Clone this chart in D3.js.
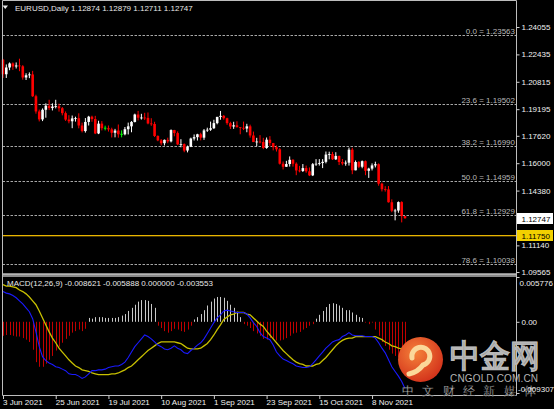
<!DOCTYPE html>
<html><head><meta charset="utf-8">
<script src="https://cdn.jsdelivr.net/npm/d3@7"></script>
<style>
html,body{margin:0;padding:0;background:#000;overflow:hidden;}
svg{display:block;}
text{font-family:"Liberation Sans",Arial,sans-serif;}
</style></head><body>
<svg id="c" width="554" height="409"></svg>
<script>
// ---------------- DATA ----------------
const symbolTitle = "EURUSD,Daily";
const lastOHLC = ["1.12874","1.12879","1.12711","1.12747"];
const firstDay = "2021-06-03", lastDay = "2021-11-22";

const openP = [
1.2212,1.2126,1.2166,1.2190,1.2172,1.2178,1.2173,1.2107,1.2120,1.2125,
1.1996,1.1906,1.1859,1.1916,1.1940,1.1926,1.1935,1.1937,1.1925,1.1896,
1.1858,1.1848,1.1865,1.1866,1.1823,1.1790,1.1844,1.1875,1.1861,1.1776,
1.1834,1.1807,1.1807,1.1800,1.1780,1.1793,1.1771,1.1771,1.1801,1.1818,
1.1844,1.1888,1.1869,1.1870,1.1868,1.1835,1.1832,1.1761,1.1735,1.1718,
1.1738,1.1729,1.1796,1.1778,1.1711,1.1713,1.1675,1.1697,1.1746,1.1754,
1.1771,1.1751,1.1794,1.1798,1.1807,1.1837,1.1874,1.1880,1.1866,1.1837,
1.1817,1.1824,1.1813,1.1809,1.1805,1.1818,1.1764,1.1725,1.1728,1.1725,
1.1690,1.1739,1.1719,1.1695,1.1682,1.1597,1.1579,1.1595,1.1620,1.1597,
1.1557,1.1554,1.1571,1.1552,1.1528,1.1594,1.1597,1.1601,1.1608,1.1651,
1.1654,1.1623,1.1643,1.1607,1.1598,1.1603,1.1680,1.1558,1.1607,1.1579,
1.1612,1.1555,1.1568,1.1587,1.1594,1.1479,1.1446,1.1445,1.1369,1.1319,
1.1320,1.1370,1.12874];
const highP = [
1.2217,1.2184,1.2196,1.2196,1.2196,1.2218,1.2180,1.2132,1.2137,1.2146,
1.2005,1.1917,1.1924,1.1954,1.1975,1.1954,1.1975,1.1952,1.1932,1.1906,
1.1884,1.1882,1.1875,1.1895,1.1840,1.1867,1.1880,1.1881,1.1880,1.1851,
1.1849,1.1822,1.1823,1.1810,1.1803,1.1829,1.1794,1.1814,1.1840,1.1849,
1.1893,1.1909,1.1892,1.1898,1.1900,1.1866,1.1845,1.1765,1.1743,1.1740,
1.1751,1.1800,1.1797,1.1788,1.1742,1.1717,1.1704,1.1751,1.1770,1.1774,
1.1780,1.1802,1.1810,1.1846,1.1857,1.1874,1.1909,1.1885,1.1869,1.1845,
1.1845,1.1848,1.1813,1.1846,1.1833,1.1828,1.1787,1.1750,1.1766,1.1750,
1.1752,1.1760,1.1720,1.1705,1.1689,1.1610,1.1614,1.1640,1.1624,1.1605,
1.1584,1.1595,1.1586,1.1575,1.1601,1.1624,1.1624,1.1624,1.1669,1.1668,
1.1667,1.1665,1.1645,1.1625,1.1616,1.1692,1.1691,1.1616,1.1613,1.1616,
1.1616,1.1573,1.1599,1.1609,1.1599,1.1485,1.1464,1.1465,1.1386,1.1330,
1.1374,1.1375,1.12879];
const lowP = [
1.2104,1.2104,1.2150,1.2152,1.2160,1.2144,1.2094,1.2092,1.2103,1.1992,
1.1893,1.1847,1.1849,1.1869,1.1914,1.1912,1.1924,1.1905,1.1883,1.1850,
1.1836,1.1807,1.1846,1.1806,1.1782,1.1781,1.1823,1.1845,1.1772,1.1772,
1.1794,1.1794,1.1787,1.1752,1.1753,1.1751,1.1753,1.1765,1.1770,1.1783,
1.1841,1.1853,1.1858,1.1856,1.1830,1.1821,1.1755,1.1730,1.1706,1.1705,
1.1718,1.1723,1.1759,1.1708,1.1694,1.1665,1.1664,1.1695,1.1734,1.1734,
1.1735,1.1738,1.1785,1.1791,1.1802,1.1830,1.1857,1.1857,1.1827,1.1802,
1.1803,1.1811,1.1771,1.1796,1.1783,1.1751,1.1725,1.1700,1.1717,1.1683,
1.1685,1.1703,1.1676,1.1669,1.1592,1.1563,1.1578,1.1580,1.1580,1.1529,
1.1546,1.1548,1.1543,1.1524,1.1524,1.1584,1.1586,1.1571,1.1599,1.1623,
1.1619,1.1619,1.1589,1.1588,1.1585,1.1586,1.1535,1.1558,1.1571,1.1570,
1.1529,1.1513,1.1557,1.1575,1.1467,1.1433,1.1432,1.1367,1.1310,1.1262,
1.1307,1.1250,1.12711];
const closeP = [
1.2126,1.2166,1.2190,1.2172,1.2178,1.2173,1.2107,1.2120,1.2125,1.1996,
1.1906,1.1859,1.1916,1.1940,1.1926,1.1935,1.1937,1.1925,1.1896,1.1858,
1.1848,1.1865,1.1866,1.1823,1.1790,1.1844,1.1875,1.1861,1.1776,1.1834,
1.1807,1.1807,1.1800,1.1780,1.1793,1.1771,1.1771,1.1801,1.1818,1.1844,
1.1888,1.1869,1.1870,1.1868,1.1835,1.1832,1.1761,1.1735,1.1718,1.1738,
1.1729,1.1796,1.1778,1.1711,1.1713,1.1675,1.1697,1.1746,1.1754,1.1771,
1.1751,1.1794,1.1798,1.1807,1.1837,1.1874,1.1880,1.1866,1.1837,1.1817,
1.1824,1.1813,1.1809,1.1805,1.1818,1.1764,1.1725,1.1728,1.1725,1.1690,
1.1739,1.1719,1.1695,1.1682,1.1597,1.1579,1.1595,1.1620,1.1597,1.1557,
1.1554,1.1571,1.1552,1.1528,1.1594,1.1597,1.1601,1.1608,1.1651,1.1654,
1.1623,1.1643,1.1607,1.1598,1.1603,1.1680,1.1558,1.1607,1.1579,1.1612,
1.1555,1.1568,1.1587,1.1594,1.1479,1.1446,1.1445,1.1369,1.1319,1.1320,
1.1370,1.1287,1.12747];

// MACD
const macdDif = [
0.0039,0.0037,0.0036,0.0034,0.0031,0.0027,0.0023,0.0018,0.0013,0.0004,
-0.0013,-0.0032,-0.0045,-0.0050,-0.0053,-0.0055,-0.0058,-0.0059,-0.0061,-0.0063,
-0.0067,-0.0068,-0.0068,-0.0070,-0.0073,-0.0071,-0.0067,-0.0063,-0.0063,-0.0062,
-0.0062,-0.0061,-0.0059,-0.0058,-0.0057,-0.0057,-0.0055,-0.0052,-0.0046,-0.0039,
-0.0032,-0.0027,-0.0022,-0.0017,-0.0019,-0.0022,-0.0026,-0.0030,-0.0032,-0.0035,
-0.0036,-0.0034,-0.0031,-0.0034,-0.0036,-0.0040,-0.0041,-0.0037,-0.0034,-0.0030,
-0.0027,-0.0022,-0.0015,-0.0008,-0.0001,0.0005,0.0009,0.0014,0.0015,0.0014,
0.0013,0.0012,0.0012,0.0012,0.0010,0.0005,-0.0001,-0.0006,-0.0014,-0.0019,
-0.0021,-0.0023,-0.0030,-0.0039,-0.0044,-0.0048,-0.0050,-0.0052,-0.0054,-0.0057,
-0.0058,-0.0059,-0.0059,-0.0058,-0.0054,-0.0049,-0.0044,-0.0039,-0.0034,-0.0030,
-0.0026,-0.0024,-0.0023,-0.0019,-0.0017,-0.0014,-0.0017,-0.0018,-0.0018,-0.0018,
-0.0019,-0.0019,-0.0019,-0.0021,-0.0027,-0.0034,-0.0040,-0.0049,-0.0058,-0.0064,
-0.0070,-0.0077,-0.0086];
const macdDea = [
0.0048,0.0046,0.0046,0.0045,0.0044,0.0041,0.0039,0.0036,0.0032,0.0027,
0.0022,0.0014,0.0005,-0.0004,-0.0013,-0.0021,-0.0027,-0.0034,-0.0039,-0.0044,
-0.0049,-0.0053,-0.0057,-0.0059,-0.0062,-0.0063,-0.0064,-0.0066,-0.0067,-0.0068,
-0.0068,-0.0068,-0.0068,-0.0067,-0.0067,-0.0066,-0.0064,-0.0062,-0.0059,-0.0057,
-0.0053,-0.0049,-0.0045,-0.0041,-0.0037,-0.0034,-0.0031,-0.0028,-0.0026,-0.0026,
-0.0026,-0.0026,-0.0026,-0.0027,-0.0028,-0.0031,-0.0034,-0.0035,-0.0035,-0.0035,
-0.0034,-0.0031,-0.0028,-0.0023,-0.0017,-0.0010,-0.0004,0.0003,0.0006,0.0009,
0.0010,0.0012,0.0012,0.0012,0.0010,0.0009,0.0005,0.0001,-0.0003,-0.0006,
-0.0012,-0.0017,-0.0022,-0.0027,-0.0032,-0.0037,-0.0041,-0.0045,-0.0049,-0.0052,
-0.0054,-0.0055,-0.0057,-0.0057,-0.0057,-0.0055,-0.0054,-0.0050,-0.0046,-0.0041,
-0.0036,-0.0031,-0.0027,-0.0024,-0.0022,-0.0021,-0.0021,-0.0019,-0.0019,-0.0019,
-0.0019,-0.0019,-0.0019,-0.0019,-0.0021,-0.0023,-0.0026,-0.0028,-0.0031,-0.0032,
-0.0034,-0.0035,-0.0036];
const macdHist = [
-0.0018,-0.0017,-0.0017,-0.0018,-0.0019,-0.0019,-0.0021,-0.0023,-0.0026,-0.0036,
-0.0052,-0.0058,-0.0058,-0.0054,-0.0049,-0.0044,-0.0037,-0.0032,-0.0027,-0.0022,
-0.0018,-0.0014,-0.0012,-0.0010,-0.0012,-0.0009,0.0005,0.0004,0.0006,0.0006,
0.0006,0.0005,0.0005,0.0005,0.0005,0.0006,0.0008,0.0010,0.0014,0.0018,
0.0022,0.0026,0.0028,0.0028,0.0027,0.0023,0.0018,-0.0005,-0.0008,-0.0012,
-0.0014,-0.0012,-0.0009,-0.0010,-0.0012,-0.0013,-0.0010,-0.0005,0.0003,0.0006,
0.0010,0.0015,0.0021,0.0026,0.0030,0.0032,0.0032,0.0031,0.0027,0.0022,
0.0018,0.0013,0.0006,-0.0003,-0.0005,-0.0008,-0.0012,-0.0015,-0.0018,-0.0022,
-0.0023,-0.0021,-0.0023,-0.0024,-0.0024,-0.0023,-0.0021,-0.0018,-0.0015,-0.0014,
-0.0013,-0.0010,-0.0008,-0.0005,-0.0003,0.0004,0.0009,0.0014,0.0019,0.0023,
0.0024,0.0023,0.0021,0.0018,0.0015,0.0015,0.0012,0.0009,0.0006,0.0005,
-0.0001,-0.0003,-0.0001,-0.0010,-0.0018,-0.0026,-0.0031,-0.0036,-0.0041,-0.0044,
-0.0046,-0.0052,-0.0059];
const macdHeader = "MACD(12,26,9) -0.008621 -0.005888 0.000000 -0.003553";

const priceTicks = [1.24055,1.22435,1.20815,1.19195,1.17620,1.16000,1.14380,1.11140,1.09565];
const priceRange = [1.09565, 1.25593];
const macdTicks = [0.005776, 0, -0.009307];
const macdRange = [-0.009307, 0.005776];
const fibLevels = ["0.0","23.6","38.2","50.0","61.8","78.6"];
const fibPrices = [1.23563,1.19502,1.16990,1.14959,1.12929,1.10038];
const hLinePrice = 1.11750;
const currentPrice = 1.12747;
const dateTicks = ["3 Jun 2021","25 Jun 2021","19 Jul 2021","10 Aug 2021","1 Sep 2021","23 Sep 2021","15 Oct 2021","8 Nov 2021"];

// ---------------- LAYOUT ----------------
const svg = d3.select("#c");
const L = 2.5, R = 516.5, mainTop = 1, mainBot = 272, macdTop = 277, macdBot = 394, axisY = 395.5;
const parse = d3.timeParse("%Y-%m-%d");
const days = d3.timeDay.range(parse(firstDay), d3.timeDay.offset(parse(lastDay),1)).filter(d => d.getDay()!==0 && d.getDay()!==6);
const fmtDay = d3.timeFormat("%-d %b %Y");
const idx = d3.range(days.length);

const x = d3.scaleLinear().domain([0, days.length-1]).range([3, 405]);
const y = d3.scaleLinear().domain(priceRange).range([mainBot, mainTop]);
const ym = d3.scaleLinear().domain(macdRange).range([macdBot, macdTop]);

svg.append("rect").attr("width",554).attr("height",409).attr("fill","#000");

// fib lines
const fg = svg.append("g");
fibPrices.forEach((p,i)=>{
  fg.append("line").attr("x1",L).attr("x2",R).attr("y1",Math.round(y(p))+0.5).attr("y2",Math.round(y(p))+0.5)
    .attr("stroke","#a8a8a8").attr("stroke-width",1).attr("stroke-dasharray","2.5,1.5");
  fg.append("text").attr("x",515).attr("y",Math.round(y(p))-1.5).attr("text-anchor","end")
    .attr("font-size","8px").attr("fill","#b8b8b8").text(fibLevels[i]+" = "+fibPrices[i].toFixed(5));
});

// horizontal line
svg.append("rect").attr("x",L).attr("width",R-L).attr("y",Math.round(y(hLinePrice))).attr("height",1.3)
  .attr("fill","#e8b400");

// candles
const cg = svg.append("g");
idx.forEach(i=>{
  const o=openP[i], c=closeP[i], h=highP[i], l=lowP[i];
  const col = o===c ? "#00ff00" : (c>o ? "#ffffff" : "#ff0000");
  const cx = x(i);
  cg.append("line").attr("x1",cx).attr("x2",cx).attr("y1",y(h)).attr("y2",y(l)).attr("stroke",col).attr("stroke-width",1);
  const top = y(Math.max(o,c)), bot = y(Math.min(o,c));
  if (o===c) {
    cg.append("line").attr("x1",cx-1.3).attr("x2",cx+1.3).attr("y1",top).attr("y2",top).attr("stroke",col).attr("stroke-width",1);
  } else {
    cg.append("rect").attr("x",cx-1.3).attr("width",2.6).attr("y",top).attr("height",Math.max(0.8,bot-top)).attr("fill",col);
  }
});

// separator
svg.append("rect").attr("x",L-0.5).attr("y",273).attr("width",R-L+1).attr("height",4).attr("fill","#8a8a8a");
svg.append("line").attr("x1",L).attr("x2",R).attr("y1",274.5).attr("y2",274.5).attr("stroke","#b4b4b4");

// MACD histogram
const hg = svg.append("g");
idx.forEach(i=>{
  const v = macdHist[i];
  hg.append("line").attr("x1",Math.round(x(i))+0.5).attr("x2",Math.round(x(i))+0.5)
    .attr("y1",ym(0)).attr("y2",ym(v)).attr("stroke", v>=0 ? "#c8c8c8" : "#c00000").attr("stroke-width",1);
});
const lineGen = arr => d3.line().x(i=>x(i)).y(i=>ym(arr[i]))(idx);
svg.append("path").attr("d",lineGen(macdDea)).attr("fill","none").attr("stroke","#c8c000").attr("stroke-width",1.3);
svg.append("path").attr("d",lineGen(macdDif)).attr("fill","none").attr("stroke","#1a1aff").attr("stroke-width",1.1);

// frame
svg.append("path").attr("d",`M${L},0.5H${R}V${axisY}H${L}Z`).attr("fill","none").attr("stroke","#bdbdbd").attr("stroke-width",1);

// right price axis
const ra = svg.append("g").attr("transform",`translate(${R},0)`)
  .call(d3.axisRight(y).tickValues(priceTicks).tickSize(3).tickPadding(2).tickFormat(d3.format(".5f")));
ra.select(".domain").remove();
ra.selectAll("line").attr("stroke","#d0d0d0");
ra.selectAll("text").attr("fill","#f0f0f0").attr("font-size","8px").attr("font-family","Liberation Sans, Arial, sans-serif");

// macd axis
const fm = v => v===0 ? "0.00" : v.toFixed(6);
const ma = svg.append("g").attr("transform",`translate(${R},0)`)
  .call(d3.axisRight(ym).tickValues(macdTicks.filter(v=>v>=0)).tickSize(3).tickPadding(2).tickFormat(fm));
ma.select(".domain").remove();
ma.selectAll("line").attr("stroke","#d0d0d0");
ma.selectAll("text").attr("fill","#f0f0f0").attr("font-size","8px").attr("font-family","Liberation Sans, Arial, sans-serif")
  .attr("dy", d => d>0 ? "1.05em" : "0.32em")
  .attr("x", d => d>0 ? 3 : 5);
// bottom macd tick + label
const mMin = macdTicks[macdTicks.length-1];
svg.append("line").attr("x1",R).attr("x2",R+3).attr("y1",ym(mMin)-0.5).attr("y2",ym(mMin)-0.5).attr("stroke","#d0d0d0");

// price labels
function priceBox(p, fill, txtCol){
  const yy = Math.round(y(p));
  svg.append("rect").attr("x",R+0.5).attr("y",yy-5).attr("width",36).attr("height",11).attr("fill",fill);
  svg.append("text").attr("x",R+5).attr("y",yy+3.5).attr("font-size","8px").attr("fill",txtCol).text(p.toFixed(5));
}
priceBox(currentPrice,"#ffffff","#000");
priceBox(hLinePrice,"#f2d000","#000");

// bottom time axis
const tickIdx = dateTicks.map(t => idx.find(i => fmtDay(days[i])===t));
const ba = svg.append("g").attr("transform",`translate(0,${axisY})`)
  .call(d3.axisBottom(x).tickValues(tickIdx).tickSize(3.5).tickFormat(i=>fmtDay(days[i])));
ba.select(".domain").remove();
ba.selectAll("line").attr("stroke","#d0d0d0");
ba.selectAll("text").attr("fill","#f0f0f0").attr("font-size","8px").attr("font-family","Liberation Sans, Arial, sans-serif")
  .attr("text-anchor","start").attr("x",-0.5).attr("y",9).attr("dy",0);

// headers
svg.append("path").attr("d","M2.5,5.5L8,5.5L5.25,9Z").attr("fill","#e8e8e8");
svg.append("text").attr("x",15).attr("y",10.5).attr("font-size","8px").attr("fill","#e8e8e8")
  .text(symbolTitle+"  "+lastOHLC.join(" "));
svg.append("text").attr("x",7).attr("y",286).attr("font-size","8px").attr("fill","#e8e8e8").text(macdHeader);

// watermark
const defs = svg.append("defs");
const rg = defs.append("radialGradient").attr("id","lg").attr("cx","40%").attr("cy","35%").attr("r","70%");
rg.append("stop").attr("offset","0%").attr("stop-color","#f5823a");
rg.append("stop").attr("offset","100%").attr("stop-color","#d2301a");
const wm = svg.append("g");
wm.append("circle").attr("cx",420.5).attr("cy",359.5).attr("r",22.5).attr("fill","url(#lg)");
wm.append("path").attr("d","M412,358 a9,9 0 1,1 11,7 q-5,7 -14,9").attr("fill","none")
  .attr("stroke","#fbd89a").attr("stroke-width",5).attr("stroke-linecap","round");
wm.append("text").attr("x",450).attr("y",367).attr("font-family","Noto Sans CJK SC").attr("font-weight",700)
  .attr("font-size","32px").attr("fill","#8e8e8e").attr("stroke","#b8b8b8").attr("stroke-width",0.6)
  .attr("textLength",90).attr("lengthAdjust","spacingAndGlyphs").text("中金网");
wm.append("text").attr("x",450).attr("y",382).attr("font-size","10px").attr("fill","#b4b4b4")
  .attr("textLength",88).attr("lengthAdjust","spacing").text("CNGOLD.COM.CN");
const subChars = ["中","文","财","经","新","媒","体"];
subChars.forEach((ch,k)=>{
  wm.append("text").attr("x",402+k*20.3).attr("y",395).attr("font-family","Noto Sans CJK SC").attr("font-weight",300)
    .attr("font-size","12px").attr("fill","#d8d8d8").attr("stroke","#000").attr("stroke-width",0.3).text(ch);
});
// bottom macd label drawn over the watermark, as in the reference
svg.append("text").attr("x",R+1.5).attr("y",ym(mMin)-2).attr("font-size","8px").attr("fill","#f0f0f0").text(mMin.toFixed(6));
</script>
</body></html>
